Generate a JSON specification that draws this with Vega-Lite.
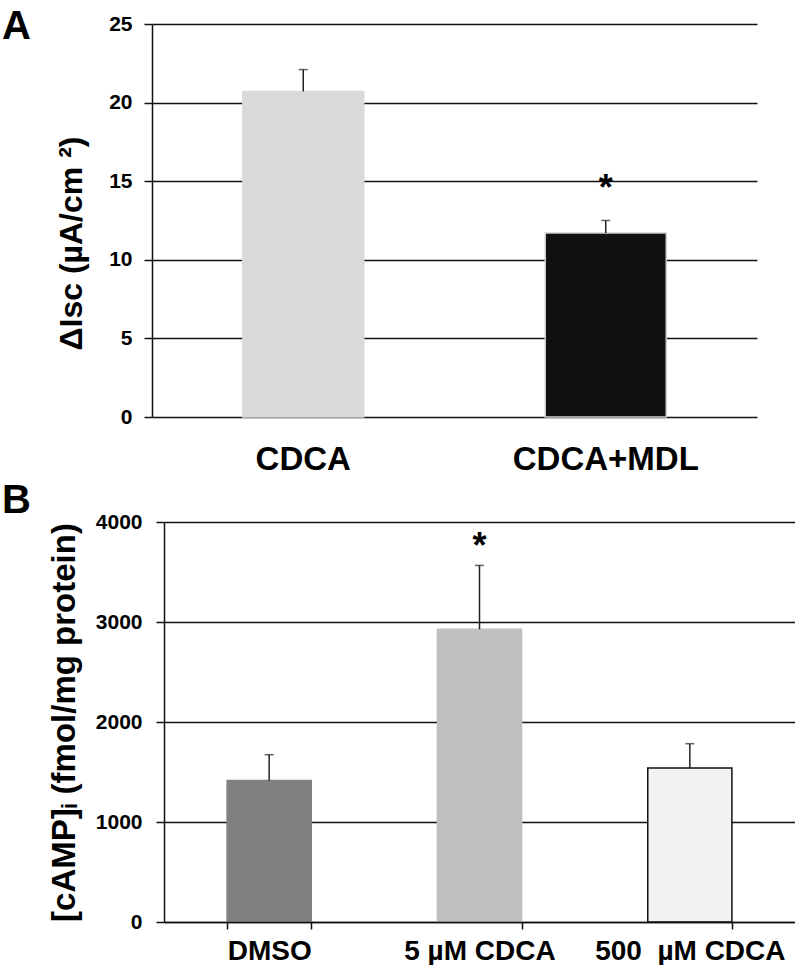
{
  "$schema": "https://vega.github.io/schema/vega-lite/v6.json",
  "background": "white",
  "padding": {"left": 2, "top": 7, "right": 0, "bottom": 0},
  "autosize": {"type": "pad"},
  "spacing": 5,
  "resolve": {"scale": {"color": "independent", "stroke": "independent"}},
  "config": {
    "view": {"stroke": null},
    "font": "Liberation Sans",
    "axis": {"labelColor": "black", "titleColor": "black", "labelFont": "Liberation Sans", "titleFont": "Liberation Sans", "labelLimit": 0}
  },
  "vconcat": [
    {
      "width": 605,
      "height": 393,
      "title": {"text": "A", "anchor": "start", "frame": "group", "dx": -150, "dy": 37, "offset": 3, "fontSize": 40, "fontWeight": "bold", "color": "black", "font": "Liberation Sans"},
      "data": {"values": [
        {"group": "CDCA", "value": 20.7, "upper": 22.1, "sig": "", "sig_y": null},
        {"group": "CDCA+MDL", "value": 11.7, "upper": 12.5, "sig": "*", "sig_y": 13.8}
      ]},
      "encoding": {
        "x": {"field": "group", "type": "nominal", "sort": null,
          "scale": {"paddingInner": 0.6, "paddingOuter": 0.3},
          "axis": {"title": null, "domain": false, "ticks": false, "labelAngle": 0, "labelFontSize": 33, "labelFontWeight": "bold", "labelPadding": 26}}
      },
      "layer": [
        {
          "mark": {"type": "bar", "strokeWidth": 1.5},
          "encoding": {
            "y": {"field": "value", "type": "quantitative",
              "scale": {"domain": [0, 25], "nice": false},
              "axis": {"values": [0, 5, 10, 15, 20, 25], "format": "d", "grid": true, "gridColor": "#111", "gridWidth": 1.5,
                "domainColor": "#111", "domainWidth": 1.5, "tickColor": "#111", "tickWidth": 1.5, "tickSize": 8,
                "labelFontSize": 21, "labelFontWeight": "bold", "labelPadding": 12,
                "title": "ΔIsc (µA/cm ²)", "titleFontSize": 32, "titleFontWeight": "bold", "titlePadding": 20, "titleY": 219}},
            "color": {"field": "group", "type": "nominal", "legend": null,
              "scale": {"domain": ["CDCA", "CDCA+MDL"], "range": ["#d9d9d9", "#111111"]}},
            "stroke": {"field": "group", "type": "nominal", "legend": null,
              "scale": {"domain": ["CDCA", "CDCA+MDL"], "range": ["#d9d9d9", "#cfcfcf"]}}
          }
        },
        {
          "mark": {"type": "rule", "color": "#222", "strokeWidth": 1.5},
          "encoding": {"y": {"field": "value", "type": "quantitative"}, "y2": {"field": "upper"}}
        },
        {
          "mark": {"type": "tick", "color": "#222", "thickness": 1.5, "size": 9},
          "encoding": {"y": {"field": "upper", "type": "quantitative"}}
        },
        {
          "transform": [{"filter": "datum.sig_y != null"}],
          "mark": {"type": "text", "fontSize": 36, "fontWeight": "bold", "color": "black", "align": "center", "baseline": "alphabetic"},
          "encoding": {"y": {"field": "sig_y", "type": "quantitative"}, "text": {"field": "sig"}}
        }
      ]
    },
    {
      "width": 643,
      "height": 400,
      "title": {"text": "B", "anchor": "start", "frame": "group", "dx": -150, "dy": 14, "fontSize": 40, "fontWeight": "bold", "color": "black", "font": "Liberation Sans"},
      "data": {"values": [
        {"group": "DMSO", "value": 1416, "upper": 1673, "sig": "", "sig_y": null},
        {"group": "5 µM CDCA", "value": 2927, "upper": 3566, "sig": "*", "sig_y": 3636},
        {"group": "500\u00a0 µM CDCA", "value": 1540, "upper": 1783, "sig": "", "sig_y": null}
      ]},
      "encoding": {
        "x": {"field": "group", "type": "nominal", "sort": null,
          "scale": {"paddingInner": 0.6, "paddingOuter": 0.3, "range": [12, 643]},
          "axis": {"title": null, "domain": true, "domainColor": "#111", "domainWidth": 1.5, "ticks": true, "tickBand": "extent",
            "tickSize": 7, "tickColor": "#111", "tickWidth": 1.5, "labelAngle": 0, "labelFontSize": 28, "labelFontWeight": "bold",
            "labelPadding": 8, "zindex": 1}}
      },
      "layer": [
        {
          "mark": {"type": "bar", "strokeWidth": 1.5},
          "encoding": {
            "y": {"field": "value", "type": "quantitative",
              "scale": {"domain": [0, 4000], "nice": false},
              "axis": {"values": [0, 1000, 2000, 3000, 4000], "format": "d", "offset": -12, "grid": true, "gridColor": "#111", "gridWidth": 1.5,
                "domainColor": "#111", "domainWidth": 1.5, "tickColor": "#111", "tickWidth": 1.5, "tickSize": 8,
                "labelFontSize": 21, "labelFontWeight": "bold", "labelPadding": 14,
                "title": "[cAMP]ᵢ (fmol/mg protein)", "titleFontSize": 33, "titleFontWeight": "bold", "titlePadding": 14}},
            "color": {"field": "group", "type": "nominal", "legend": null,
              "scale": {"domain": ["DMSO", "5 µM CDCA", "500\u00a0 µM CDCA"], "range": ["#808080", "#bfbfbf", "#f2f2f2"]}},
            "stroke": {"field": "group", "type": "nominal", "legend": null,
              "scale": {"domain": ["DMSO", "5 µM CDCA", "500\u00a0 µM CDCA"], "range": ["#808080", "#bfbfbf", "#111111"]}}
          }
        },
        {
          "mark": {"type": "rule", "color": "#222", "strokeWidth": 1.5},
          "encoding": {"y": {"field": "value", "type": "quantitative"}, "y2": {"field": "upper"}}
        },
        {
          "mark": {"type": "tick", "color": "#222", "thickness": 1.5, "size": 9},
          "encoding": {"y": {"field": "upper", "type": "quantitative"}}
        },
        {
          "transform": [{"filter": "datum.sig_y != null"}],
          "mark": {"type": "text", "fontSize": 36, "fontWeight": "bold", "color": "black", "align": "center", "baseline": "alphabetic"},
          "encoding": {"y": {"field": "sig_y", "type": "quantitative"}, "text": {"field": "sig"}}
        }
      ]
    }
  ]
}
